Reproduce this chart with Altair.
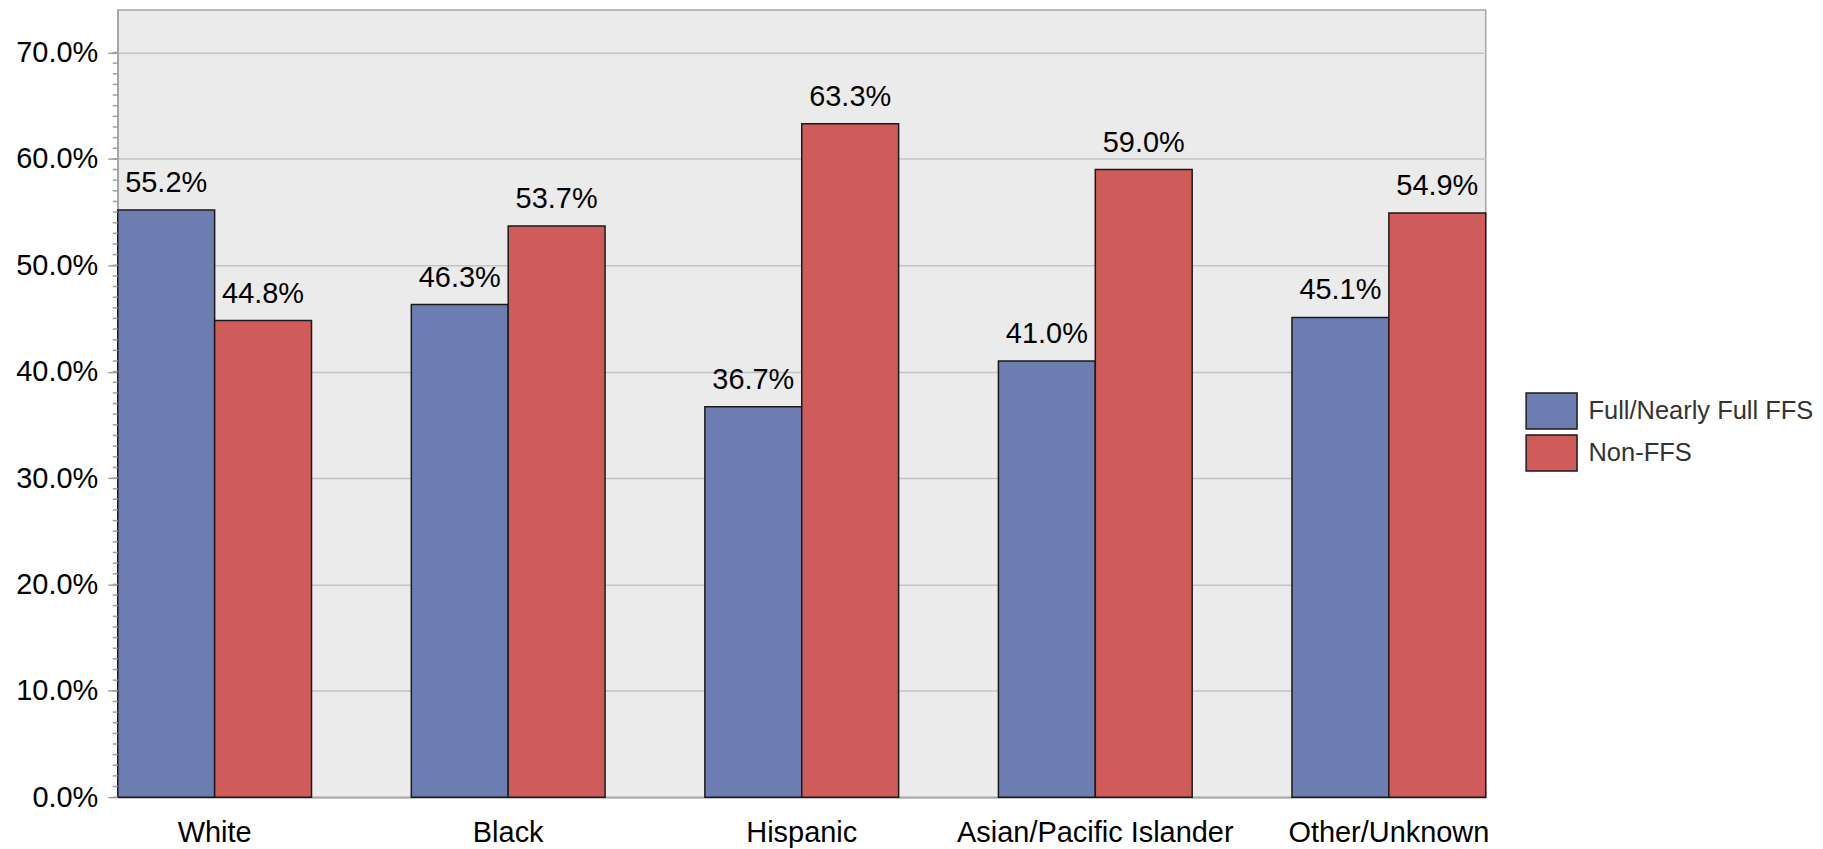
import altair as alt
import pandas as pd

categories = ["White", "Black", "Hispanic", "Asian/Pacific Islander", "Other/Unknown"]
series = ["Full/Nearly Full FFS", "Non-FFS"]
ffs_values = [55.2, 46.3, 36.7, 41.0, 45.1]
non_ffs_values = [44.8, 53.7, 63.3, 59.0, 54.9]
colors = ["#6d7db1", "#d05b5b"]
y_tick_values = [0.0, 0.1, 0.2, 0.3, 0.4, 0.5, 0.6, 0.7]
minor_tick_values = [i / 100 for i in range(0, 71)]

rows = []
for c, a, b in zip(categories, ffs_values, non_ffs_values):
    rows.append({"group": c, "series": series[0], "value": a / 100})
    rows.append({"group": c, "series": series[1], "value": b / 100})
df = pd.DataFrame(rows)
minor_df = pd.DataFrame({"v": minor_tick_values})

FONT = "Liberation Sans"

x_enc = alt.X(
    "group:N",
    sort=categories,
    scale=alt.Scale(paddingInner=0.34, paddingOuter=0),
    axis=alt.Axis(
        title=None, labelAngle=0, ticks=False, tickSize=0, labelPadding=21,
        labelFontSize=29, labelColor="#000000", labelFont=FONT, labelLimit=0,
        domainColor="#a8a8a8", domainWidth=1.5, grid=False,
    ),
)
xoff_enc = alt.XOffset("series:N", sort=series, scale=alt.Scale(paddingInner=0, paddingOuter=0))
y_scale = alt.Scale(domain=[0, 0.74], nice=False, zero=True)

bars = alt.Chart(df).mark_bar(stroke="#1a1a1a", strokeWidth=1.5).encode(
    x=x_enc,
    xOffset=xoff_enc,
    y=alt.Y(
        "value:Q",
        scale=y_scale,
        axis=alt.Axis(
            title=None, values=y_tick_values, format=".1%", grid=True,
            gridColor="#c4c4c4", gridWidth=1.5, tickSize=10, tickColor="#a0a0a0",
            tickWidth=1.5, domainColor="#a8a8a8", domainWidth=1.5,
            labelFontSize=29, labelColor="#000000", labelFont=FONT, labelPadding=10,
        ),
    ),
    color=alt.Color(
        "series:N",
        sort=series,
        scale=alt.Scale(domain=series, range=colors),
        legend=alt.Legend(
            title=None, orient="none", legendX=1418, legendY=383, padding=0,
            symbolType="M-1.417,-1H1.417V1H-1.417Z", symbolSize=1296,
            symbolStrokeColor="#1a1a1a", symbolStrokeWidth=1.5, symbolOpacity=1,
            labelFontSize=25.5, labelColor="#333333", labelFont=FONT, labelLimit=0,
            labelOffset=18, rowPadding=0,
        ),
    ),
)

labels = alt.Chart(df).mark_text(
    baseline="alphabetic", align="center", dy=-18, fontSize=29, font=FONT, color="#000000"
).encode(
    x=alt.X("group:N", sort=categories),
    xOffset=alt.XOffset("series:N", sort=series),
    y=alt.Y("value:Q", scale=y_scale),
    text=alt.Text("value:Q", format=".1%"),
)

minor = alt.Chart(minor_df).mark_rule(color="#a0a0a0", strokeWidth=1.5, clip=False).encode(
    y=alt.Y("v:Q", scale=y_scale),
    x=alt.value(-5),
    x2=alt.value(0),
)

chart = alt.layer(bars, labels, minor).properties(
    width=1371,
    height=789,
    autosize=alt.AutoSizeParams(type="none"),
    padding={"left": 110, "top": 1, "right": 330, "bottom": 50},
    background="#ffffff",
    view=alt.ViewBackground(fill="#ebebeb", stroke="#a8a8a8", strokeWidth=1.5),
).configure_view(
    fill="#ebebeb", stroke="#a8a8a8", strokeWidth=1.5
).configure(font=FONT)

chart.save("out.html", embed_options={"renderer": "svg", "actions": False})
